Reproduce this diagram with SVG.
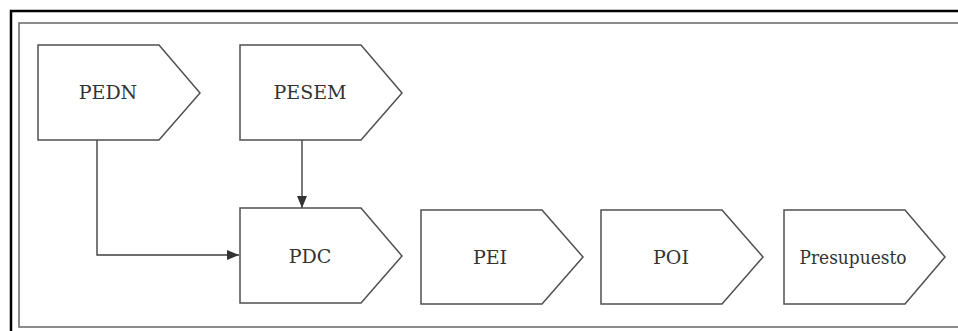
<svg xmlns="http://www.w3.org/2000/svg" width="958" height="331" viewBox="0 0 958 331">
<defs>
<style>
.node polygon{fill:#ffffff;stroke:#505050;stroke-width:1.5}
.node text{font-family:"DejaVu Serif","Liberation Serif",serif;font-size:19px;fill:#333333;text-anchor:middle}
.conn{fill:none;stroke:#404040;stroke-width:1.4}
</style>
<marker id="arr" viewBox="0 0 12 10" refX="12" refY="5" markerWidth="12" markerHeight="10" markerUnits="userSpaceOnUse" orient="auto">
<path d="M0,0 L12,5 L0,10 Z" fill="#333333"/>
</marker>
</defs>
<rect x="0" y="0" width="958" height="331" fill="#ffffff"/>
<rect x="11" y="11" width="960" height="340" fill="none" stroke="#000000" stroke-width="2.5"/>
<rect x="19" y="23" width="960" height="304" fill="none" stroke="#707070" stroke-width="1.6"/>
<g id="connectors">
<path class="conn" d="M302,140 L302,208" marker-end="url(#arr)"/>
<path class="conn" d="M97,140 L97,255 L239,255" marker-end="url(#arr)"/>
</g>
<g id="PEDN" class="node">
<polygon points="38,45 159,45 200,93 159,140 38,140"/>
<text x="108" y="99">PEDN</text>
</g>
<g id="PESEM" class="node">
<polygon points="240,45 361,45 402,93 361,140 240,140"/>
<text x="310" y="99">PESEM</text>
</g>
<g id="PDC" class="node">
<polygon points="240,208 361,208 402,256 361,303 240,303"/>
<text x="310" y="263">PDC</text>
</g>
<g id="PEI" class="node">
<polygon points="421,210 542,210 583,257 542,304 421,304"/>
<text x="490" y="264">PEI</text>
</g>
<g id="POI" class="node">
<polygon points="601,210 722,210 763,257 722,304 601,304"/>
<text x="671" y="264">POI</text>
</g>
<g id="Presupuesto" class="node">
<polygon points="784,210 905,210 945,257 905,304 784,304"/>
<text x="853" y="264" textLength="107" lengthAdjust="spacingAndGlyphs">Presupuesto</text>
</g>
</svg>
